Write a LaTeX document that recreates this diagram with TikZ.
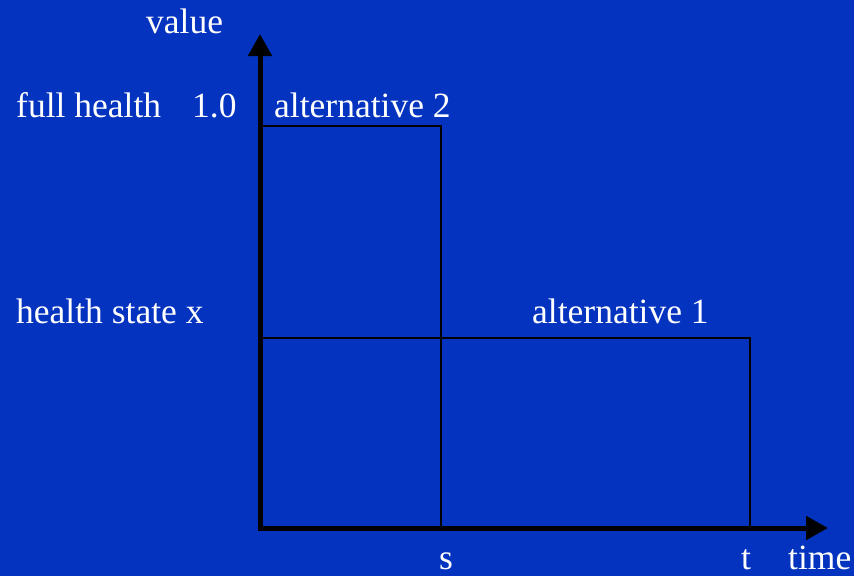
\documentclass[tikz,border=0pt]{standalone}
\usepackage{fontspec}
\setmainfont{Liberation Serif}
\usepackage{tikz}
\usetikzlibrary{arrows.meta,positioning}
\definecolor{SlideBlue}{RGB}{4,51,191}

\begin{document}
\begin{tikzpicture}[x=1pt,y=-1pt,
  lbl/.style={text=white,inner sep=0pt,anchor=base west,font=\fontsize{35.5}{40}\selectfont},
  axis/.style={line width=5pt,-{Triangle[length=22pt,width=23pt]}},
  box/.style={draw=black,line width=2pt}]
\fill[SlideBlue] (0,0) rectangle (854,576);
\useasboundingbox (0,0) rectangle (854,576);
% axes
\coordinate (O) at (260,528);
\coordinate (ytop) at (260,34);
\coordinate (xend) at (828,528);
% rectangles for the two alternatives
\draw[box] (O) rectangle (441,126);
\draw[box] (O) rectangle (750,338);
\draw[axis] ([yshift=2.5pt]O) -- (ytop);
\draw[axis] ([xshift=-2.5pt]O) -- (xend);
% labels
\node[lbl] (value) at (146,33) {value};
\node[lbl] (full) at (16,117) {full health};
\node[lbl] (one) at (192,117) {1.0};
\node[lbl] (alt2) at (274,117) {alternative 2};
\node[lbl] (hsx) at (16,323) {health state x};
\node[lbl] (alt1) at (532,323) {alternative 1};
\node[lbl] (s) at (439,569) {s};
\node[lbl] (t) at (741,569) {t};
\node[lbl] (time) at (788,569) {time};
\end{tikzpicture}
\end{document}
